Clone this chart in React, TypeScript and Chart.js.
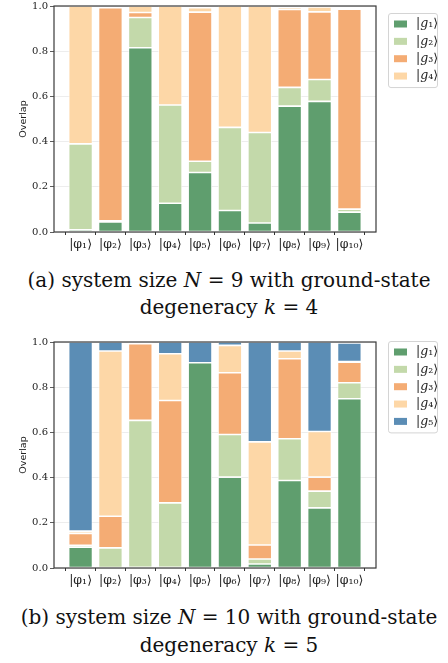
import React, { useEffect, useRef } from "react";
import { Chart, registerables } from "chart.js";
Chart.register(...registerables);

const stateLabels = ["|φ₁⟩", "|φ₂⟩", "|φ₃⟩", "|φ₄⟩", "|φ₅⟩", "|φ₆⟩", "|φ₇⟩", "|φ₈⟩", "|φ₉⟩", "|φ₁₀⟩"];
const seriesNames = ["|g₁⟩", "|g₂⟩", "|g₃⟩", "|g₄⟩", "|g₅⟩"];
const seriesColors = ["#5f9e6e", "#c3d9aa", "#f4ac74", "#fdd7a7", "#5b8db5"];
const yTicks = [0, 0.2, 0.4, 0.6, 0.8, 1.0];

// (a) N = 9, k = 4
const aG1 = [0.01, 0.045, 0.815, 0.127, 0.263, 0.095, 0.04, 0.557, 0.578, 0.088];
const aG2 = [0.38, 0.005, 0.134, 0.435, 0.05, 0.368, 0.4, 0.083, 0.097, 0.013];
const aG3 = [0.0, 0.943, 0.022, 0.0, 0.66, 0.0, 0.0, 0.345, 0.299, 0.885];
const aG4 = [0.61, 0.0, 0.029, 0.438, 0.02, 0.537, 0.56, 0.01, 0.022, 0.003];

// (b) N = 10, k = 5
const bG1 = [0.092, 0.0, 0.003, 0.003, 0.908, 0.402, 0.018, 0.387, 0.266, 0.749];
const bG2 = [0.008, 0.089, 0.65, 0.285, 0.0, 0.189, 0.022, 0.185, 0.074, 0.071];
const bG3 = [0.053, 0.14, 0.34, 0.453, 0.0, 0.273, 0.062, 0.354, 0.062, 0.091];
const bG4 = [0.01, 0.731, 0.004, 0.207, 0.0, 0.121, 0.456, 0.034, 0.202, 0.002];
const bG5 = [0.837, 0.04, 0.003, 0.052, 0.092, 0.015, 0.442, 0.04, 0.396, 0.083];

const frameBox = {
  id: "frameBox",
  afterDatasetsDraw(chart: any) {
    const { left, top, right, bottom } = chart.chartArea;
    const ctx = chart.ctx;
    ctx.save();
    ctx.strokeStyle = "#3a3a3a";
    ctx.lineWidth = 1.2;
    ctx.strokeRect(left, top, right - left, bottom - top);
    ctx.restore();
  },
};

function drawKet(ctx: CanvasRenderingContext2D, text: string, x: number, y: number, size: number) {
  let cx = x;
  for (const ch of Array.from(text)) {
    const italic = /[a-zα-ω]/.test(ch);
    ctx.font = `${italic ? "italic " : ""}${size}px "DejaVu Serif"`;
    ctx.fillText(ch, cx, y);
    cx += ctx.measureText(ch).width;
  }
}

const legendBox = {
  id: "legendBox",
  afterDraw(chart: any, _args: any, opts: any) {
    const ctx: CanvasRenderingContext2D = chart.ctx;
    const x = chart.chartArea.right + opts.dx;
    const y = opts.y;
    const n = chart.data.datasets.length;
    const step = 17.35;
    const w = 49;
    const h = 22 + (n - 1) * step;
    ctx.save();
    ctx.beginPath();
    (ctx as any).roundRect(x + 0.5, y + 0.5, w, h, 2.5);
    ctx.fillStyle = "rgba(255,255,255,0.9)";
    ctx.fill();
    ctx.strokeStyle = "#d4d4d4";
    ctx.lineWidth = 1;
    ctx.stroke();
    chart.data.datasets.forEach((ds: any, i: number) => {
      const cy = y + 11 + i * step;
      ctx.fillStyle = ds.backgroundColor;
      ctx.fillRect(x + 6, cy - 3.5, 13, 7);
      ctx.fillStyle = "#222";
      ctx.textBaseline = "middle";
      ctx.textAlign = "left";
      drawKet(ctx, ds.label, x + 28, cy, 12.5);
    });
    ctx.restore();
  },
};

function makeConfig(series: number[][], legendY: number, padTop: number): any {
  return {
    type: "bar",
    data: {
      datasets: series.map((vals, i) => ({
        label: seriesNames[i],
        data: vals.map((v, j) => ({ x: j, y: v })),
        backgroundColor: seriesColors[i],
        borderColor: "#ffffff",
        borderWidth: 0.8,
        borderSkipped: false,
        barPercentage: 0.8,
        categoryPercentage: 1.0,
      })),
    },
    options: {
      responsive: false,
      animation: false,
      layout: { padding: { top: padTop, right: 72, bottom: 0, left: 0 } },
      plugins: {
        legend: { display: false },
        tooltip: { enabled: false },
        legendBox: { dx: 12, y: legendY },
      },
      scales: {
        x: {
          type: "linear",
          stacked: true,
          offset: false,
          min: -0.89,
          max: 9.89,
          afterBuildTicks: (scale: any) => {
            scale.ticks = stateLabels.map((_, i) => ({ value: i }));
          },
          afterFit: (scale: any) => {
            scale.height = 20;
          },
          ticks: {
            autoSkip: false,
            maxRotation: 0,
            padding: 2,
            color: "#222",
            font: { family: "DejaVu Serif", size: 12.5 },
            callback: (v: number) => stateLabels[Math.round(v)],
          },
          grid: { display: true, drawOnChartArea: false, tickColor: "#333", tickLength: 3 },
          border: { display: false },
        },
        y: {
          stacked: true,
          min: 0,
          max: 1,
          afterBuildTicks: (scale: any) => {
            scale.ticks = yTicks.map((v) => ({ value: v }));
          },
          afterFit: (scale: any) => {
            scale.width = 54;
          },
          ticks: {
            padding: 2,
            color: "#222",
            font: { family: "DejaVu Serif", size: 10, lineHeight: 0.8 },
            callback: (v: number) => v.toFixed(1),
          },
          grid: { color: "rgba(0,0,0,0.09)", lineWidth: 0.8, tickColor: "#333", tickLength: 4 },
          border: { display: false },
          title: {
            display: true,
            text: "Overlap",
            color: "#222",
            font: { family: "DejaVu Sans", size: 9.5 },
            padding: { top: 17.5, bottom: 0 },
          },
        },
      },
    },
    plugins: [frameBox, legendBox],
  };
}

function BarPanel({ series, legendY, top, padTop }: { series: number[][]; legendY: number; top: number; padTop: number }) {
  const ref = useRef<HTMLCanvasElement>(null);
  useEffect(() => {
    if (!ref.current) return;
    const chart = new Chart(ref.current, makeConfig(series, legendY, padTop));
    return () => chart.destroy();
  }, [series, legendY, padTop]);
  return (
    <canvas
      ref={ref}
      width={448}
      height={252}
      style={{ position: "absolute", left: 0, top, width: 448, height: 252 }}
    />
  );
}

const capStyle: React.CSSProperties = {
  position: "absolute",
  left: 0,
  width: 458,
  textAlign: "center",
  fontFamily: '"DejaVu Serif", serif',
  fontSize: 20,
  lineHeight: "27px",
  color: "#111",
  whiteSpace: "nowrap",
};

export default function App() {
  return (
    <div style={{ position: "absolute", left: 0, top: 0, width: 448, height: 663, background: "#fff", overflow: "hidden" }}>
      <BarPanel series={[aG1, aG2, aG3, aG4]} legendY={13} top={0} padTop={5.5} />
      <div style={{ ...capStyle, top: 267 }}>(a) system size <i>N</i> = 9 with ground-state</div>
      <div style={{ ...capStyle, top: 294 }}>degeneracy <i>k</i> = 4</div>
      <BarPanel series={[bG1, bG2, bG3, bG4, bG5]} legendY={5} top={336} padTop={5.5} />
      <div style={{ ...capStyle, top: 604 }}>(b) system size <i>N</i> = 10 with ground-state</div>
      <div style={{ ...capStyle, top: 632 }}>degeneracy <i>k</i> = 5</div>
    </div>
  );
}
